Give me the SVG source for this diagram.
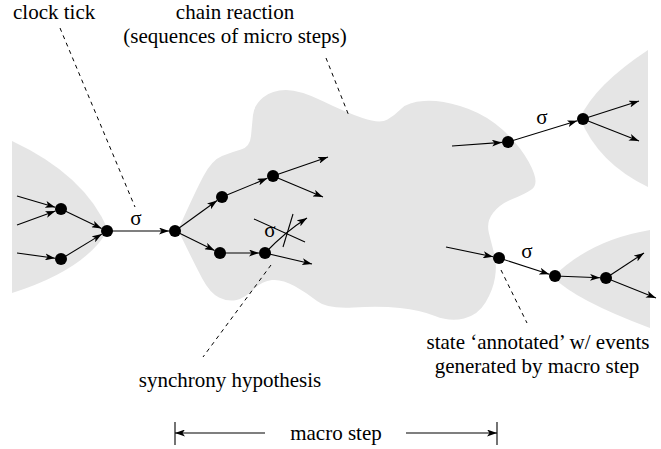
<svg xmlns="http://www.w3.org/2000/svg" width="661" height="449" viewBox="0 0 661 449">
<defs>
<marker id="ah" viewBox="0 0 10 7" refX="10" refY="3.5" markerWidth="10" markerHeight="7" orient="auto" markerUnits="userSpaceOnUse"><path d="M0,0 L10,3.5 L0,7 L2.5,3.5 z" fill="#000"/></marker>
<style>
.region{fill:#e5e5e5;stroke:none}
.edge{stroke:#000;stroke-width:1.1;fill:none;marker-end:url(#ah)}
.dash{stroke:#000;stroke-width:1;fill:none;stroke-dasharray:4 4}
.line{stroke:#000;stroke-width:1.1;fill:none}
.node{fill:#000}
text{font-family:"Liberation Serif","Times New Roman",serif;font-size:21px;fill:#000}
.c{text-anchor:middle}
</style>
</defs>
<g id="regions">
<path class="region" d="M12,141 Q85,175 108,230 Q85,270 12,293 Z"/>
<path class="region" d="M178,230 Q195,192 203.5,176 Q212,160 222,156 Q232,152 241,149.5 Q250,147 251,136 Q252,125 253,115 Q254,105 263,97.5 Q272,90 286,90 Q300,90 322.5,101 Q345,112 362.5,118 Q380,124 387.5,119.5 Q395,115 401.5,108.5 Q408,102 424,101 Q440,100 460,106 Q480,112 495,123.5 Q510,135 520,148.5 Q530,162 534,173.5 Q538,185 531.5,189.5 Q525,194 512.5,199 Q500,204 493,213 Q486,222 489,233.5 Q492,245 494.5,255 Q497,265 495,277.5 Q493,290 485.5,302.5 Q478,315 464,318.5 Q450,322 435,316 Q420,310 400,308 Q380,306 353.5,307.5 Q327,309 317,301 Q307,293 294.5,286 Q282,279 272,280 Q262,281 253.5,289.5 Q245,298 236.5,300 Q228,302 219,297.5 Q210,293 202.5,279 Q195,265 178,230 Z"/>
<path class="region" d="M648,50 Q595,85 580,118 Q598,163 648,187 Z"/>
<path class="region" d="M650,230 Q590,240 553,277 Q575,300 650,328 Z"/>
</g>
<g id="connectors">
<line class="edge" x1="17" y1="196" x2="55.2" y2="207.3"/>
<line class="edge" x1="17" y1="225" x2="55.4" y2="211.1"/>
<line class="edge" x1="17" y1="253" x2="55.1" y2="258.2"/>
<line class="edge" x1="61" y1="209" x2="101.6" y2="228.4"/>
<line class="edge" x1="61" y1="259" x2="101.9" y2="234.1"/>
<line class="edge" x1="107" y1="231" x2="169" y2="231"/>
<line class="edge" x1="175" y1="231" x2="217.1" y2="200.5"/>
<line class="edge" x1="175" y1="231" x2="214.6" y2="250.4"/>
<line class="edge" x1="222" y1="197" x2="267.4" y2="178.3"/>
<line class="edge" x1="273" y1="176" x2="328" y2="157"/>
<line class="edge" x1="273" y1="176" x2="323" y2="197"/>
<line class="edge" x1="220" y1="253" x2="259" y2="253"/>
<line class="edge" x1="265" y1="253" x2="312" y2="264"/>
<path class="edge" d="M265,253 Q285,232 307,218"/>
<line class="line" x1="254" y1="219" x2="305" y2="242"/>
<line class="line" x1="293" y1="214" x2="283" y2="247"/>
<line class="edge" x1="452" y1="146" x2="502" y2="142.4"/>
<line class="edge" x1="508" y1="142" x2="577.3" y2="120.8"/>
<line class="edge" x1="583" y1="119" x2="639" y2="101"/>
<line class="edge" x1="583" y1="119" x2="639" y2="141"/>
<line class="edge" x1="446" y1="247" x2="493.1" y2="256.8"/>
<line class="edge" x1="499" y1="258" x2="549.3" y2="274.2"/>
<line class="edge" x1="555" y1="276" x2="600" y2="277.8"/>
<line class="edge" x1="606" y1="278" x2="644" y2="253"/>
<line class="edge" x1="606" y1="278" x2="656" y2="298"/>
<line class="dash" x1="60" y1="28" x2="135" y2="207"/>
<line class="dash" x1="326" y1="58" x2="349" y2="116"/>
<line class="dash" x1="271" y1="265" x2="203" y2="357"/>
<line class="dash" x1="501" y1="270" x2="527" y2="323"/>
<line class="line" x1="175" y1="422" x2="175" y2="445"/>
<line class="line" x1="497" y1="422" x2="497" y2="445"/>
<line class="edge" x1="265" y1="433" x2="175" y2="433"/>
<line class="edge" x1="406" y1="433" x2="497" y2="433"/>
</g>
<g id="nodes">
<circle id="n1" class="node" cx="61" cy="209" r="6"/>
<circle id="n2" class="node" cx="61" cy="259" r="6"/>
<circle id="n3" class="node" cx="107" cy="231" r="6"/>
<circle id="n4" class="node" cx="175" cy="231" r="6"/>
<circle id="n5" class="node" cx="222" cy="197" r="6"/>
<circle id="n6" class="node" cx="273" cy="176" r="6"/>
<circle id="n7" class="node" cx="220" cy="253" r="6"/>
<circle id="n8" class="node" cx="265" cy="253" r="6"/>
<circle id="n9" class="node" cx="508" cy="142" r="6"/>
<circle id="n10" class="node" cx="583" cy="119" r="6"/>
<circle id="n11" class="node" cx="499" cy="258" r="6"/>
<circle id="n12" class="node" cx="555" cy="276" r="6"/>
<circle id="n13" class="node" cx="606" cy="278" r="6"/>
</g>
<g id="labels" font-family="Liberation Serif, Times New Roman, serif">
<text x="136" y="225" class="c">σ</text>
<text x="270" y="237" class="c">σ</text>
<text x="542" y="124" class="c">σ</text>
<text x="527" y="258" class="c">σ</text>
<text x="13" y="19">clock tick</text>
<text x="235" y="19" class="c">chain reaction</text>
<text x="235" y="43" class="c">(sequences of micro steps)</text>
<text x="230" y="387" class="c">synchrony hypothesis</text>
<text x="538" y="349" class="c">state ‘annotated’ w/ events</text>
<text x="537" y="373" class="c">generated by macro step</text>
<text x="336" y="440" class="c">macro step</text>
</g>
</svg>
